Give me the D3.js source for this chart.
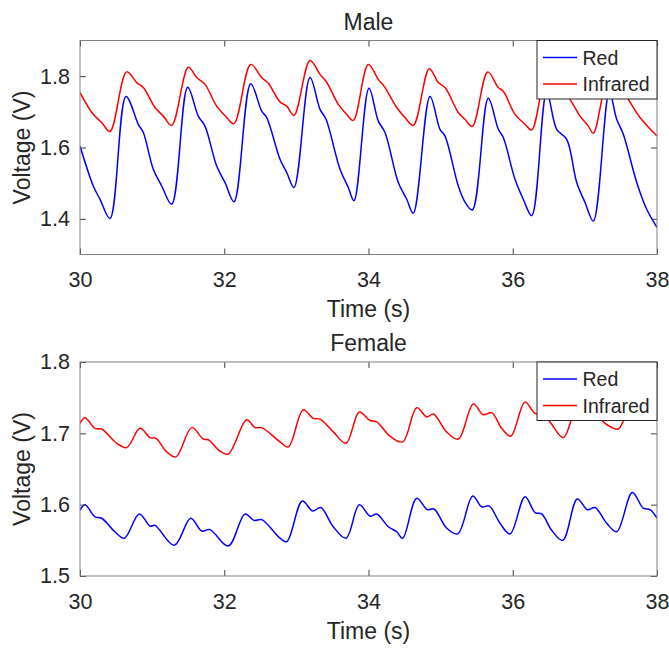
<!DOCTYPE html>
<html>
<head>
<meta charset="utf-8">
<script src="https://cdn.jsdelivr.net/npm/d3@7"></script>
<style>
  body { margin: 0; background: #fff; }
  text { font-family: "Liberation Sans", Arial, sans-serif; fill: #262626; }
</style>
</head>
<body>
<div id="chart"></div>
<script>
/* data: [time (s), voltage (V)] */
var seriesNames = ["Red", "Infrared"];
var seriesColors = ["#0000ff", "#ff0000"];
var xTicks = [30, 32, 34, 36, 38];
var maleYTicks = [1.4, 1.6, 1.8];
var femaleYTicks = [1.5, 1.6, 1.7, 1.8];

var maleRed = [[30.000,1.604],[30.184,1.492],[30.277,1.455],[30.416,1.401],[30.638,1.743],[30.808,1.665],[30.878,1.642],[31.016,1.539],[31.133,1.492],[31.271,1.441],[31.493,1.769],[31.640,1.688],[31.733,1.660],[31.895,1.548],[32.010,1.502],[32.135,1.448],[32.367,1.779],[32.519,1.702],[32.589,1.684],[32.773,1.567],[32.866,1.530],[32.967,1.488],[33.189,1.796],[33.328,1.707],[33.411,1.679],[33.605,1.539],[33.720,1.488],[33.799,1.451],[34.007,1.766],[34.136,1.674],[34.229,1.642],[34.413,1.502],[34.530,1.455],[34.621,1.416],[34.853,1.743],[34.991,1.651],[35.061,1.632],[35.245,1.492],[35.338,1.447],[35.439,1.425],[35.661,1.738],[35.800,1.651],[35.869,1.628],[36.031,1.511],[36.146,1.455],[36.263,1.409],[36.471,1.755],[36.609,1.651],[36.748,1.623],[36.887,1.502],[37.002,1.446],[37.117,1.394],[37.339,1.755],[37.441,1.679],[37.533,1.637],[37.719,1.502],[37.857,1.427],[38.000,1.376]];

var maleInfrared = [[30.000,1.754],[30.184,1.693],[30.301,1.670],[30.416,1.645],[30.647,1.812],[30.786,1.782],[30.878,1.768],[31.040,1.712],[31.155,1.688],[31.271,1.662],[31.502,1.825],[31.618,1.796],[31.733,1.777],[31.895,1.716],[32.034,1.684],[32.135,1.667],[32.367,1.833],[32.519,1.796],[32.611,1.780],[32.773,1.728],[32.866,1.716],[32.967,1.690],[33.189,1.844],[33.328,1.805],[33.420,1.783],[33.581,1.721],[33.698,1.693],[33.789,1.676],[33.997,1.833],[34.136,1.791],[34.229,1.768],[34.391,1.712],[34.506,1.684],[34.621,1.662],[34.843,1.821],[34.968,1.782],[35.061,1.768],[35.245,1.698],[35.338,1.679],[35.439,1.659],[35.653,1.812],[35.800,1.768],[35.869,1.758],[36.031,1.693],[36.170,1.665],[36.263,1.649],[36.475,1.808],[36.614,1.769],[36.725,1.752],[36.794,1.735],[36.933,1.688],[37.048,1.660],[37.117,1.640],[37.335,1.805],[37.445,1.770],[37.529,1.755],[37.602,1.735],[37.764,1.684],[38.000,1.632]];

var femaleRed = [[30.000,1.592],[30.069,1.600],[30.208,1.583],[30.301,1.581],[30.485,1.562],[30.614,1.553],[30.822,1.587],[30.971,1.570],[31.040,1.571],[31.307,1.543],[31.535,1.581],[31.687,1.563],[31.802,1.565],[32.056,1.542],[32.288,1.587],[32.413,1.578],[32.519,1.579],[32.773,1.553],[32.866,1.548],[33.082,1.605],[33.226,1.591],[33.337,1.596],[33.512,1.569],[33.688,1.553],[33.873,1.600],[34.021,1.584],[34.114,1.587],[34.275,1.569],[34.391,1.562],[34.474,1.553],[34.668,1.609],[34.815,1.593],[34.908,1.594],[35.084,1.567],[35.237,1.559],[35.445,1.612],[35.570,1.597],[35.675,1.598],[35.823,1.574],[35.962,1.559],[36.170,1.611],[36.309,1.589],[36.401,1.587],[36.540,1.564],[36.693,1.550],[36.895,1.608],[37.034,1.593],[37.140,1.596],[37.303,1.574],[37.441,1.562],[37.658,1.617],[37.810,1.595],[37.903,1.593],[38.000,1.581]];

var femaleInfrared = [[30.000,1.714],[30.069,1.722],[30.208,1.707],[30.301,1.706],[30.509,1.686],[30.647,1.680],[30.832,1.707],[30.971,1.694],[31.054,1.693],[31.202,1.674],[31.331,1.667],[31.549,1.708],[31.710,1.692],[31.779,1.691],[31.941,1.675],[32.056,1.671],[32.311,1.719],[32.426,1.708],[32.519,1.708],[32.773,1.688],[32.888,1.681],[33.096,1.733],[33.235,1.721],[33.328,1.720],[33.512,1.702],[33.688,1.686],[33.873,1.730],[34.021,1.718],[34.114,1.716],[34.298,1.696],[34.474,1.688],[34.668,1.736],[34.807,1.723],[34.899,1.727],[35.084,1.702],[35.245,1.692],[35.453,1.741],[35.592,1.726],[35.708,1.729],[35.847,1.707],[35.972,1.696],[36.170,1.744],[36.309,1.728],[36.406,1.728],[36.517,1.716],[36.701,1.694],[36.898,1.738],[37.037,1.722],[37.140,1.725],[37.307,1.712],[37.463,1.706],[37.661,1.746],[37.806,1.728],[37.903,1.729],[38.000,1.718]];

var W = 669, H = 648;
var svg = d3.select("#chart")
    .append("svg")
    .attr("width", W)
    .attr("height", H);

// one subplot
function panel(id, top, height, yDomain, yTicks, title, series) {
    var left = 80, width = 577;

    var x = d3.scaleLinear().domain([30, 38]).range([0, width]);
    var y = d3.scaleLinear().domain(yDomain).range([height, 0]);

    var g = svg.append("g")
        .attr("transform", "translate(" + left + "," + top + ")");

    g.append("clipPath").attr("id", "clip" + id)
        .append("rect").attr("width", width).attr("height", height);

    // lines
    var line = d3.line()
        .x(function (d) { return x(d[0]) })
        .y(function (d) { return y(d[1]) })
        .curve(d3.curveCatmullRom.alpha(0.5));

    series.forEach(function (s, i) {
        g.append("path")
            .datum(s)
            .attr("clip-path", "url(#clip" + id + ")")
            .attr("fill", "none")
            .attr("stroke", seriesColors[i])
            .attr("stroke-width", 1.5)
            .attr("d", line);
    });

    // axes, ticks pointing inward
    var fs = "21.5px";
    var xb = g.append("g")
        .attr("transform", "translate(0," + height + ")")
        .call(d3.axisBottom(x).tickValues(xTicks).tickSize(-6).tickPadding(17.5).tickFormat(d3.format("d")));
    var xt = g.append("g")
        .call(d3.axisTop(x).tickValues(xTicks).tickSize(-6).tickFormat(""));
    var yl = g.append("g")
        .call(d3.axisLeft(y).tickValues(yTicks).tickSize(-6).tickPadding(10).tickFormat(d3.format(".1f")));
    var yr = g.append("g")
        .attr("transform", "translate(" + width + ",0)")
        .call(d3.axisRight(y).tickValues(yTicks).tickSize(-6).tickFormat(""));

    [xb, xt, yl, yr].forEach(function (a) {
        a.select(".domain").remove();
        a.selectAll(".tick line").attr("stroke", "#404040");
        a.selectAll("text").attr("font-size", fs).attr("fill", "#262626")
            .style("font-family", "'Liberation Sans', Arial, sans-serif");
    });

    // frame
    g.append("rect")
        .attr("width", width)
        .attr("height", height)
        .attr("fill", "none")
        .attr("stroke", "#808080")
        .attr("stroke-width", 1);

    // labels
    g.append("text")
        .attr("x", width / 2)
        .attr("y", height + 62.5)
        .attr("text-anchor", "middle")
        .attr("font-size", "23px")
        .text("Time (s)");

    g.append("text")
        .attr("transform", "translate(" + (30 - left) + "," + (height / 2) + ") rotate(-90)")
        .attr("text-anchor", "middle")
        .attr("font-size", "23px")
        .text("Voltage (V)");

    g.append("text")
        .attr("x", width / 2)
        .attr("y", -11)
        .attr("text-anchor", "middle")
        .attr("font-size", "23px")
        .text(title);

    // legend, top right corner
    var lg = g.append("g").attr("transform", "translate(" + (width - 120) + ",0)");
    lg.append("rect")
        .attr("width", 120)
        .attr("height", 58.5)
        .attr("fill", "#fff")
        .attr("stroke", "#262626")
        .attr("stroke-width", 1);
    seriesNames.forEach(function (n, i) {
        var ry = 17 + i * 26.5;
        lg.append("line")
            .attr("x1", 6).attr("x2", 40)
            .attr("y1", ry).attr("y2", ry)
            .attr("stroke", seriesColors[i])
            .attr("stroke-width", 1.5);
        lg.append("text")
            .attr("x", 45.5)
            .attr("y", ry + 7)
            .attr("font-size", "19.5px")
            .text(n);
    });
}

panel("m", 40.5, 214, [1.3, 1.9], maleYTicks, "Male", [maleRed, maleInfrared]);
panel("f", 362, 214, [1.5, 1.8], femaleYTicks, "Female", [femaleRed, femaleInfrared]);
</script>
</body>
</html>
